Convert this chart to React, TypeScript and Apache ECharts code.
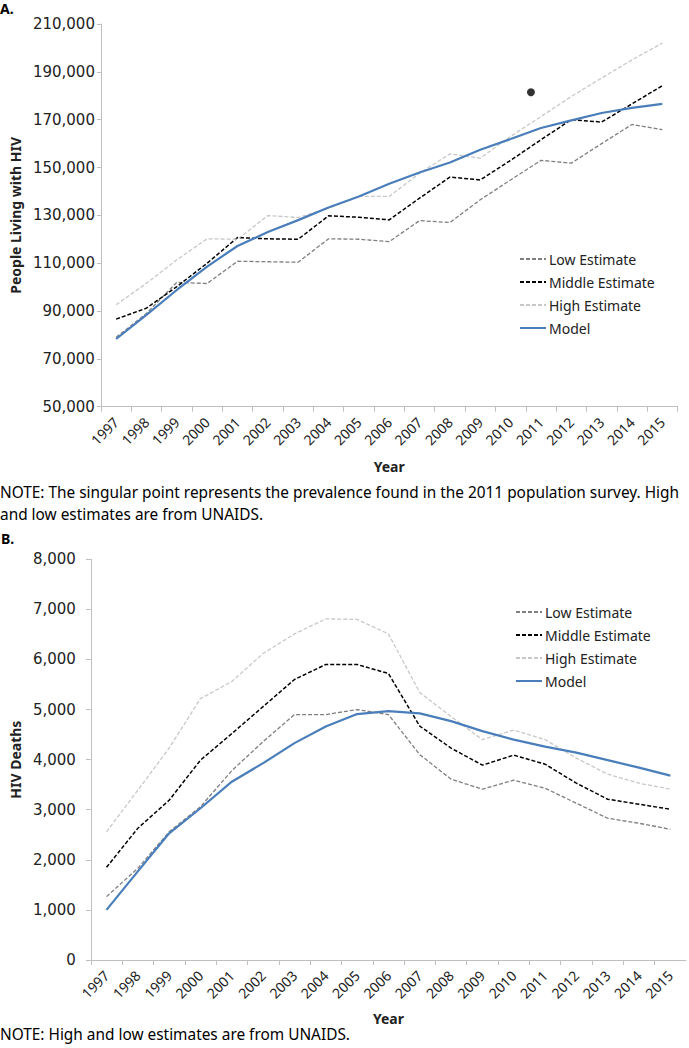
import React, { useEffect, useRef } from "react";
import * as echarts from "echarts";

const years = ["1997","1998","1999","2000","2001","2002","2003","2004","2005","2006","2007","2008","2009","2010","2011","2012","2013","2014","2015"];

// Panel A: People living with HIV
const plhivLow = [79000, 89000, 102000, 101500, 110800, 110600, 110400, 120200, 120000, 119000, 127800, 127000, 136500, 144800, 153000, 151800, 160000, 168000, 165800];
const plhivMiddle = [86600, 91200, 100200, 110000, 120700, 120200, 120000, 129800, 129200, 128100, 137200, 146000, 144800, 153000, 161600, 170000, 169000, 176600, 184200];
const plhivHigh = [92600, 101600, 111400, 120200, 120000, 129900, 129100, 133000, 137900, 137900, 147600, 155700, 153900, 163000, 171300, 179700, 187400, 195000, 202000];
const plhivModel = [78300, 88400, 98800, 108600, 117200, 123000, 128000, 133300, 137900, 143200, 147900, 152100, 157400, 161900, 166500, 169700, 172800, 174900, 176600];
const surveyYear = "2011";
const surveyValue = 181500;

// Panel B: HIV deaths
const deathsLow = [1265, 1830, 2560, 3060, 3780, 4360, 4900, 4900, 5000, 4900, 4100, 3610, 3410, 3590, 3430, 3130, 2830, 2730, 2610];
const deathsMiddle = [1850, 2630, 3190, 3990, 4520, 5060, 5600, 5900, 5900, 5720, 4670, 4230, 3890, 4090, 3910, 3530, 3210, 3110, 3010];
const deathsHigh = [2560, 3390, 4230, 5220, 5560, 6120, 6510, 6810, 6800, 6510, 5340, 4860, 4400, 4590, 4400, 4030, 3710, 3530, 3410];
const deathsModel = [1000, 1770, 2530, 3030, 3560, 3930, 4330, 4660, 4910, 4970, 4925, 4770, 4570, 4400, 4260, 4140, 3990, 3840, 3680];

const seriesNames = ["Low Estimate", "Middle Estimate", "High Estimate", "Model"];

const FONT = "Noto Sans";
const AXIS_COLOR = "#bfbfbf";
const TEXT_COLOR = "#222";

const styles: Record<string, any> = {
  "Low Estimate": { color: "#7f7f7f", width: 1.3, type: [4, 2] },
  "Middle Estimate": { color: "#000000", width: 1.5, type: [4, 2] },
  "High Estimate": { color: "#c8c8c8", width: 1.3, type: [4, 2] },
  "Model": { color: "#4a7ebb", width: 2.2, type: "solid" },
};

function lineSeries(name: string, data: number[], idx: number) {
  const s = styles[name];
  return {
    type: "line",
    name,
    data,
    xAxisIndex: idx,
    yAxisIndex: idx,
    symbol: "none",
    showSymbol: false,
    z: name === "Model" ? 5 : 3,
    itemStyle: { color: s.color },
    lineStyle: { color: s.color, width: s.width, type: s.type },
  };
}

function makeXAxis(gridIndex: number, nameGap: number) {
  return {
    type: "category",
    gridIndex,
    data: years,
    boundaryGap: true,
    name: "Year",
    nameLocation: "middle",
    nameGap,
    nameTextStyle: { fontFamily: FONT, fontWeight: "bold", fontSize: 14, color: TEXT_COLOR },
    axisLine: { lineStyle: { color: AXIS_COLOR, width: 1 } },
    axisTick: { show: true, alignWithLabel: false, length: 5, lineStyle: { color: AXIS_COLOR } },
    axisLabel: { rotate: 45, interval: 0, margin: 13, fontFamily: FONT, fontSize: 14, color: TEXT_COLOR },
    splitLine: { show: false },
  };
}

export default function App() {
  const ref = useRef<HTMLDivElement>(null);
  useEffect(() => {
    document.body.style.margin = "0";
    if (!ref.current) return;
    const chart = echarts.init(ref.current, null, { renderer: "svg" });
    const legendCommon = {
      orient: "vertical",
      data: seriesNames,
      itemWidth: 26,
      itemHeight: 12,
      itemGap: 9,
      itemStyle: { opacity: 0 },
      textStyle: { fontFamily: FONT, fontSize: 14, color: TEXT_COLOR, padding: [0, 0, 0, -2] },
      selectedMode: false,
    };
    chart.setOption({
      animation: false,
      backgroundColor: "#ffffff",
      textStyle: { fontFamily: FONT },
      grid: [
        { left: 99, top: 24, width: 578.5, height: 382.7, containLabel: false },
        { left: 77.7, top: 559.3, width: 608.3, height: 400.7, containLabel: false },
      ],
      legend: [
        { ...legendCommon, left: 514, top: 247 },
        { ...legendCommon, left: 510, top: 600 },
      ],
      xAxis: [makeXAxis(0, 53), makeXAxis(1, 51)],
      yAxis: [
        {
          type: "value",
          gridIndex: 0,
          min: 50000,
          max: 210000,
          interval: 20000,
          name: "People Living with HIV",
          nameLocation: "middle",
          nameGap: 72,
          nameTextStyle: { fontFamily: FONT, fontWeight: "bold", fontSize: 14, color: TEXT_COLOR },
          axisLine: { show: true, lineStyle: { color: AXIS_COLOR } },
          axisTick: { show: true, length: 4, lineStyle: { color: AXIS_COLOR } },
          axisLabel: {
            margin: 6,
            fontFamily: "DejaVu Sans",
            fontSize: 15,
            color: TEXT_COLOR,
            formatter: (v: number) => v.toLocaleString("en-US"),
          },
          splitLine: { show: false },
        },
        {
          type: "value",
          gridIndex: 1,
          min: 0,
          max: 8000,
          interval: 1000,
          name: "HIV Deaths",
          nameLocation: "middle",
          nameGap: 52,
          nameTextStyle: { fontFamily: FONT, fontWeight: "bold", fontSize: 14, color: TEXT_COLOR },
          axisLine: { show: true, lineStyle: { color: AXIS_COLOR } },
          axisTick: { show: true, length: 5, lineStyle: { color: AXIS_COLOR } },
          axisLabel: {
            margin: 15,
            fontFamily: "DejaVu Sans",
            fontSize: 15,
            color: TEXT_COLOR,
            formatter: (v: number) => v.toLocaleString("en-US"),
          },
          splitLine: { show: false },
        },
      ],
      series: [
        lineSeries("Low Estimate", plhivLow, 0),
        lineSeries("Middle Estimate", plhivMiddle, 0),
        lineSeries("High Estimate", plhivHigh, 0),
        lineSeries("Model", plhivModel, 0),
        {
          type: "scatter",
          name: "Survey 2011",
          xAxisIndex: 0,
          yAxisIndex: 0,
          data: [[surveyYear, surveyValue]],
          symbol: "circle",
          symbolSize: 8,
          symbolOffset: [-10, 0],
          itemStyle: { color: "#000" },
          z: 6,
        },
        lineSeries("Low Estimate", deathsLow, 1),
        lineSeries("Middle Estimate", deathsMiddle, 1),
        lineSeries("High Estimate", deathsHigh, 1),
        lineSeries("Model", deathsModel, 1),
      ],
      graphic: [
        { type: "text", left: 0, top: 1, style: { text: "A.", fontFamily: FONT, fontWeight: "bold", fontSize: 14, fill: "#000" } },
        { type: "text", left: 1, top: 531, style: { text: "B.", fontFamily: FONT, fontWeight: "bold", fontSize: 14, fill: "#000" } },
        {
          type: "text",
          left: 0,
          top: 481,
          style: {
            text: "NOTE: The singular point represents the prevalence found in the 2011 population survey. High\nand low estimates are from UNAIDS.",
            fontFamily: FONT,
            fontSize: 15.4,
            lineHeight: 22,
            fill: "#000",
          },
        },
        {
          type: "text",
          left: 0,
          top: 1027,
          style: { text: "NOTE: High and low estimates are from UNAIDS.", fontFamily: FONT, fontSize: 15.4, fill: "#000" },
        },
      ],
    });
    return () => chart.dispose();
  }, []);
  return <div ref={ref} style={{ width: 689, height: 1048 }} />;
}
